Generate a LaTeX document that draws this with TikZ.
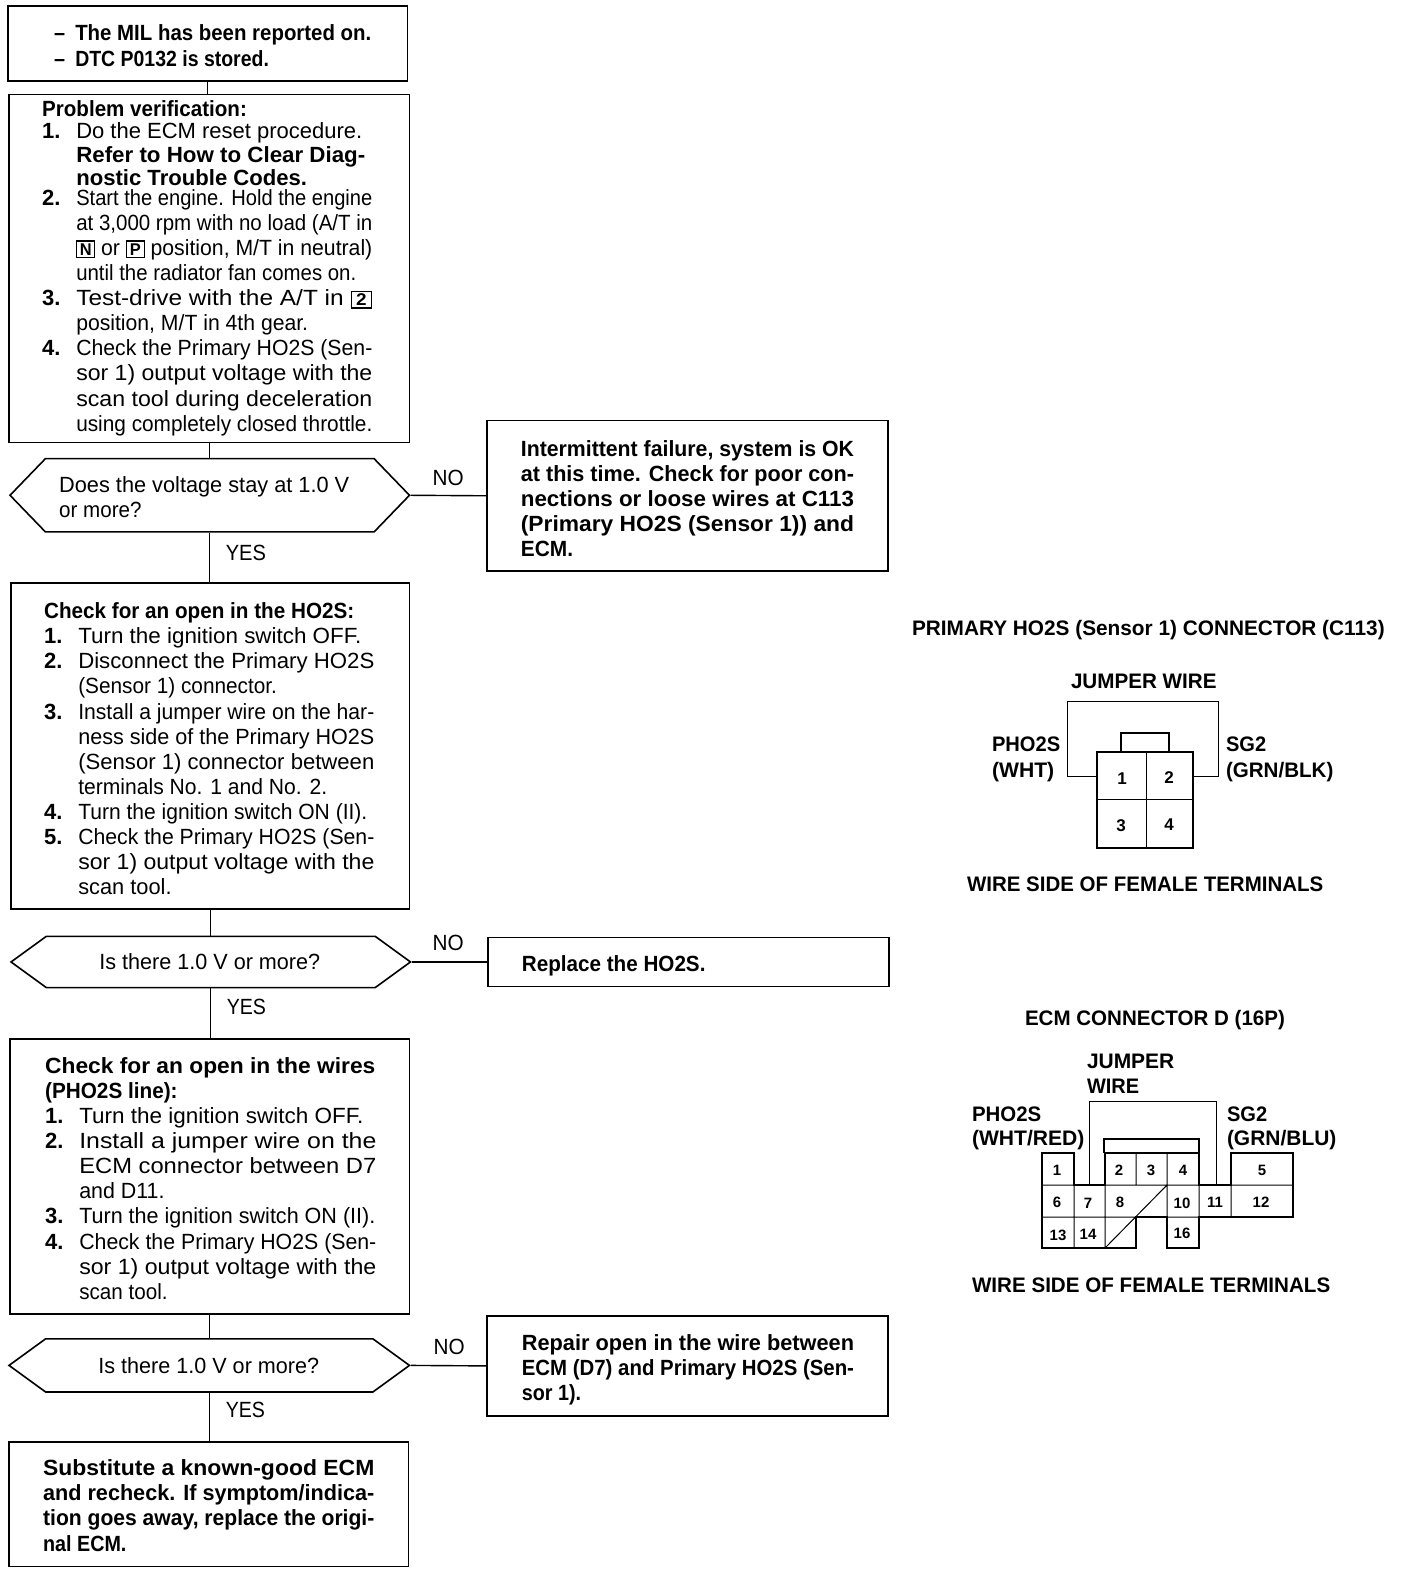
\documentclass[tikz,border=0pt]{standalone}
\usepackage{graphicx}
\usepackage{fontspec}
\setmainfont{Liberation Sans}
\usetikzlibrary{shapes.symbols}
\newdimen\ux \ux=.5018pt
\newcommand{\Lw}[2]{\rule[-2pt]{0pt}{11.5pt}\resizebox{#1\ux}{\height}{#2}}
\newcommand{\Itm}[3]{\makebox[34\ux][l]{\rule[-2pt]{0pt}{11.5pt}#1}\Lw{#2}{#3}}
\newcommand{\Fb}[1]{{\fboxsep=.6pt\fboxrule=.6pt\fbox{\makebox[7.4pt]{\rule[-.3pt]{0pt}{6.6pt}\fontsize{8.5}{8.5}\selectfont\bfseries #1}}}}
\tikzset{
  bx/.style 2 args={draw=black,line width=.8pt,rectangle,inner sep=0pt,minimum width=#1*.5018pt,minimum height=#2*.5018pt},
  dec/.style n args={3}{draw=black,line width=.8pt,shape=signal,signal to=west and east,signal pointer angle=#3,inner sep=0pt,minimum width=#1*.5018pt,minimum height=#2*.5018pt},
  txt/.style={anchor=north west,inner sep=0pt,outer sep=0pt,align=left,yshift=5.77pt,font=\fontsize{11}{12.55}\selectfont},
  btxt/.style={txt,font=\fontsize{11}{12.55}\selectfont\bfseries},
  lab/.style={btxt,font=\fontsize{10.5}{12.55}\selectfont\bfseries},
  pin/.style={inner sep=0pt,font=\fontsize{8.5}{10}\selectfont\bfseries},
  spin/.style={inner sep=0pt,font=\fontsize{7.5}{9}\selectfont\bfseries},
  conn/.style={draw=black,line width=.7pt},
  thin wire/.style={draw=black,line width=.5pt},
  heavy/.style={draw=black,line width=1.1pt,line join=miter},
}
\begin{document}
\begin{tikzpicture}[x=.5pt,y=-.5pt]
\useasboundingbox (0,0) rectangle (1408,1574);
\begin{scope}[x=.5018pt,y=-.5018pt]
% boxes
\node[bx={398}{75}] (A) at (207,43.5) {};
\node[bx={399}{347}] (B) at (208.5,267.5) {};
\node[dec={398}{73}{92}] (D1) at (209,493.5) {};
\node[bx={400}{150}] (R1) at (685,494) {};
\node[bx={397}{325}] (C) at (209.5,743.5) {};
\node[dec={398}{51}{72}] (D2) at (210,958.5) {};
\node[bx={400}{49}] (R2) at (686,958.5) {};
\node[bx={398}{274}] (E) at (209,1172) {};
\node[dec={399}{53}{72}] (D3) at (208.5,1360.5) {};
\node[bx={400}{100}] (R3) at (685,1361) {};
\node[bx={398}{124}] (F) at (208,1499) {};
% connectors
\draw[conn] (A.south) -- (A.south |- B.north);
\draw[conn] (B.south) -- (B.south |- D1.north);
\draw[conn] (D1.south) -- (D1.south |- C.north);
\draw[conn] (C.south) -- (C.south |- D2.north);
\draw[conn] (D2.south) -- (D2.south |- E.north);
\draw[conn] (E.south) -- (E.south |- D3.north);
\draw[conn] (D3.south) -- (D3.south |- F.north);
\draw[conn] (D1.east) -- (R1.west);
\draw[conn] (D2.east) -- (R2.west);
\draw[conn] (D3.east) -- (R3.west);
% box texts
\node[btxt] (tA) at (54,33) {\makebox[21\ux][l]{\resizebox{11\ux}{\height}{–}}\Lw{295}{The MIL has been reported on.}\\[.2pt]
\makebox[21\ux][l]{\resizebox{11\ux}{\height}{–}}\Lw{193}{DTC P0132 is stored.}};
\node[txt] (tB) at (42,109) {\Lw{204}{\bfseries Problem verification:}\\[-1.5pt]
\Itm{\bfseries 1.}{285}{Do the ECM reset procedure.}\\[-1pt]
\Itm{}{288}{\bfseries Refer to How to Clear Diag-}\\[-1pt]
\Itm{}{230}{\bfseries nostic Trouble Codes.}\\[-2.5pt]
\Itm{\bfseries 2.}{295}{Start the engine. Hold the engine}\\
\Itm{}{295}{at 3,000 rpm with no load (A/T in}\\
\Itm{}{295}{\Fb{N} or \Fb{P} position, M/T in neutral)}\\
\Itm{}{279}{until the radiator fan comes on.}\\
\Itm{\bfseries 3.}{295}{Test-drive with the A/T in \Fb{2}}\\
\Itm{}{231}{position, M/T in 4th gear.}\\
\Itm{\bfseries 4.}{295}{Check the Primary HO2S (Sen-}\\
\Itm{}{295}{sor 1) output voltage with the}\\
\Itm{}{295}{scan tool during deceleration}\\
\Itm{}{295}{using completely closed throttle.}};
\node[txt] (tD1) at (59,483) {\Lw{289}{Does the voltage stay at 1.0 V}\\ \Lw{82}{or more?}};
\node[btxt] (tR1) at (519,447) {\Lw{332}{Intermittent failure, system is OK}\\
\Lw{332}{at this time. Check for poor con-}\\
\Lw{332}{nections or loose wires at C113}\\
\Lw{332}{(Primary HO2S (Sensor 1)) and}\\
\Lw{52}{ECM.}};
\node[txt] (no1) at (431,476) {\Lw{31}{NO}};
\node[txt] (yes1) at (225,551) {\Lw{40}{YES}};
\node[txt] (tC) at (44,609) {\Lw{309}{\bfseries Check for an open in the HO2S:}\\
\Itm{\bfseries 1.}{282}{Turn the ignition switch OFF.}\\
\Itm{\bfseries 2.}{295}{Disconnect the Primary HO2S}\\
\Itm{}{198}{(Sensor 1) connector.}\\
\Itm{\bfseries 3.}{295}{Install a jumper wire on the har-}\\
\Itm{}{295}{ness side of the Primary HO2S}\\
\Itm{}{295}{(Sensor 1) connector between}\\
\Itm{}{248}{terminals No. 1 and No. 2.}\\
\Itm{\bfseries 4.}{288}{Turn the ignition switch ON (II).}\\
\Itm{\bfseries 5.}{295}{Check the Primary HO2S (Sen-}\\
\Itm{}{295}{sor 1) output voltage with the}\\
\Itm{}{93}{scan tool.}};
\node[txt] (tD2) at (99,959) {\Lw{220}{Is there 1.0 V or more?}};
\node[btxt] (tR2) at (520,961) {\Lw{183}{Replace the HO2S.}};
\node[txt] (no2) at (431,940) {\Lw{31}{NO}};
\node[txt] (yes2) at (226,1003) {\Lw{39}{YES}};
\node[txt] (tE) at (45,1062) {\Lw{329}{\bfseries Check for an open in the wires}\\
\Lw{132}{\bfseries (PHO2S line):}\\
\Itm{\bfseries 1.}{283}{Turn the ignition switch OFF.}\\
\Itm{\bfseries 2.}{296}{Install a jumper wire on the}\\
\Itm{}{296}{ECM connector between D7}\\
\Itm{}{85}{and D11.}\\
\Itm{\bfseries 3.}{295}{Turn the ignition switch ON (II).}\\
\Itm{\bfseries 4.}{296}{Check the Primary HO2S (Sen-}\\
\Itm{}{296}{sor 1) output voltage with the}\\
\Itm{}{88}{scan tool.}};
\node[txt] (tD3) at (98,1361) {\Lw{220}{Is there 1.0 V or more?}};
\node[btxt] (tR3) at (520,1338) {\Lw{331}{Repair open in the wire between}\\
\Lw{331}{ECM (D7) and Primary HO2S (Sen-}\\
\Lw{59}{sor 1).}};
\node[txt] (no3) at (432,1342) {\Lw{31}{NO}};
\node[txt] (yes3) at (225,1405) {\Lw{39}{YES}};
\node[btxt] (tF) at (43,1463) {\Lw{330}{Substitute a known-good ECM}\\
\Lw{330}{and recheck. If symptom/indica-}\\
\Lw{330}{tion goes away, replace the origi-}\\
\Lw{83}{nal ECM.}};
\end{scope}
% connector C113
\node[lab] (c1title) at (912,628) {\Lw{471}{PRIMARY HO2S (Sensor 1) CONNECTOR (C113)}};
\node[lab] (c1jump) at (1071,681) {\Lw{145}{JUMPER WIRE}};
\node[lab] (c1pho) at (992,744) {\Lw{68}{PHO2S}\\[.4pt]\Lw{62}{(WHT)}};
\node[lab] (c1sg) at (1226,744) {\Lw{40}{SG2}\\[.4pt]\Lw{107}{(GRN/BLK)}};
\node[lab] (c1wire) at (967,884) {\Lw{355}{WIRE SIDE OF FEMALE TERMINALS}};
\draw[heavy] (1097,752) rectangle (1193,848);
\draw[thin wire] (1146,752) -- (1146,848) (1097,799) -- (1193,799);
\draw[heavy] (1121,752) -- (1121,733) -- (1169,733) -- (1169,752);
\draw[thin wire] (1097,776) -- (1067,776) -- (1067,701) -- (1218,701) -- (1218,776) -- (1193,776);
\foreach \n/\x/\y in {1/1122/779,2/1169/778,3/1121/826,4/1169/825}
  \node[pin] (a\n) at (\x,\y) {\n};
% connector D
\node[lab] (c2title) at (1025,1018) {\Lw{259}{ECM CONNECTOR D (16P)}};
\node[lab] (c2jump) at (1087,1061) {\Lw{87}{JUMPER}\\[.2pt]\Lw{52}{WIRE}};
\node[lab] (c2pho) at (972,1114) {\Lw{69}{PHO2S}\\[-.6pt]\Lw{112}{(WHT/RED)}};
\node[lab] (c2sg) at (1227,1114) {\Lw{40}{SG2}\\[-.6pt]\Lw{109}{(GRN/BLU)}};
\node[lab] (c2wire) at (972,1285) {\Lw{357}{WIRE SIDE OF FEMALE TERMINALS}};
\draw[thin wire] (1089,1185) -- (1089,1101) -- (1216,1101) -- (1216,1185);
\draw[heavy] (1104,1153) -- (1104,1139) -- (1199,1139) -- (1199,1153);
\draw[thin wire] (1074,1185) -- (1074,1248) (1105,1185) -- (1105,1248) (1136,1153) -- (1136,1185)
  (1167,1153) -- (1167,1217) (1199,1185) -- (1199,1217) (1231,1185) -- (1231,1217)
  (1042,1185) -- (1293,1185) (1042,1217) -- (1199,1217) (1105,1248) -- (1167,1185);
\draw[heavy] (1042,1153) -- (1074,1153) -- (1074,1185) -- (1105,1185) -- (1105,1153) -- (1199,1153) -- (1199,1185) -- (1231,1185) -- (1231,1153) -- (1293,1153) -- (1293,1217) -- (1199,1217) -- (1199,1248) -- (1167,1248) -- (1167,1217) -- (1136,1217) -- (1136,1248) -- (1042,1248) -- cycle;
\foreach \n/\x/\y in {1/1057/1170,2/1119/1170,3/1151/1170,4/1183/1170,5/1262/1170,6/1057/1202,7/1088/1203,8/1120/1202,10/1182/1203,11/1215/1202,12/1261/1202,13/1058/1235,14/1088/1234,16/1182/1233}
  \node[spin] (b\n) at (\x,\y) {\n};
\end{tikzpicture}
\end{document}
